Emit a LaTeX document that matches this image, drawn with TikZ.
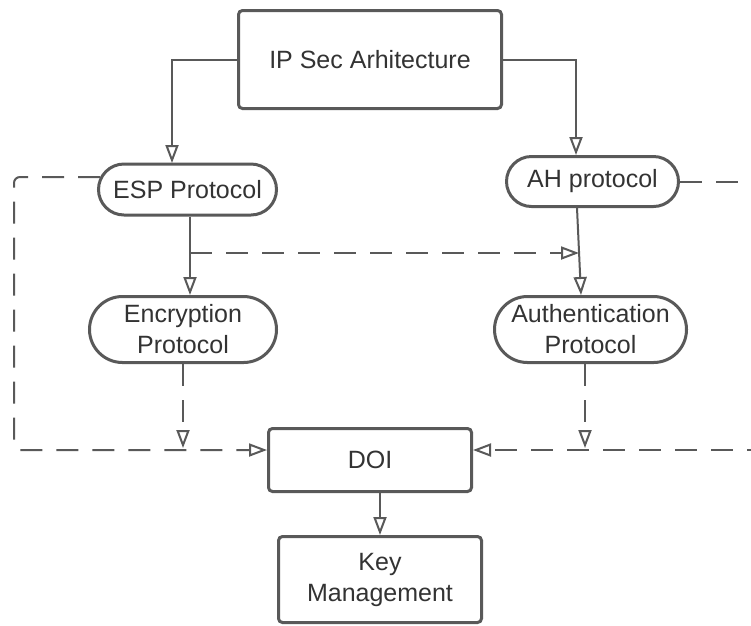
\documentclass[tikz,border=0pt]{standalone}
\usepackage{fontspec}
\setmainfont{Liberation Sans}
\usetikzlibrary{arrows.meta, shapes.misc}
\definecolor{linegray}{HTML}{595959}
\definecolor{textgray}{HTML}{333333}

\begin{document}
\begin{tikzpicture}[x=1pt, y=-1pt, >={Triangle[open, length=18pt, width=13pt]},
        color=linegray, text=textgray, font=\fontsize{25}{31}\selectfont,
        box/.style={draw=linegray, line width=3pt, rounded corners=4pt, fill=white, align=center, inner sep=0pt},
        pill/.style={draw=linegray, line width=3pt, rounded rectangle, fill=white, align=center, inner sep=0pt},
        flow/.style={->, draw=linegray, line width=2pt},
        dflow/.style={flow, dash pattern=on 22pt off 14pt}]
            \useasboundingbox[fill=white] (0, 0) rectangle (751, 625);
            \node[box, minimum width=263pt, minimum height=98pt] (arch) at (370, 59.5) {IP Sec Arhitecture};
            \node[pill, minimum width=178pt, minimum height=51pt] (esp) at (187.5, 189.5) {ESP Protocol};
            \node[pill, minimum width=172pt, minimum height=50pt] (ah) at (592.5, 181.5) {AH protocol};
            \node[pill, minimum width=187pt, minimum height=66pt] (enc) at (183, 329.5) {Encryption\\Protocol};
            \node[pill, minimum width=192pt, minimum height=66pt] (auth) at (590.5, 329.5) {Authentication\\Protocol};
            \node[box, minimum width=203pt, minimum height=63pt] (doi) at (370, 460) {DOI};
            \node[box, minimum width=203pt, minimum height=86pt] (key) at (380, 579.5) {Key\\Management};
            % joints and turns of the connectors
            \coordinate (espin) at (172, 163);
            \coordinate (ahin) at (576, 155);
            \coordinate (branch) at (190, 253);
            \coordinate (merge) at (579, 253);
            \coordinate (encjoin) at (183, 448);
            \coordinate (authjoin) at (585, 448);
            \coordinate (leftturn) at (14, 177);
            \coordinate (rightturn) at (770, 181.5);
            \draw[flow] (arch.west) -| (espin);
            \draw[flow] (arch.east) -| (ahin);
            \draw[flow] ([xshift=2.5pt]esp.south) -- ([xshift=7pt]enc.north);
            \draw[flow] ([xshift=-15.5pt]ah.south) -- ([xshift=-9.5pt]auth.north);
            \draw[dflow] (branch) -- (merge);
            \draw[dflow, rounded corners=6pt] ([shift={(3pt, 12.5pt)}]esp.west) -- (leftturn) |- ([yshift=10pt]doi.west);
            \draw[dflow] (ah.east) -- (rightturn) |- ([yshift=10pt]doi.east);
            \draw[dflow] (enc.south) -- (encjoin);
            \draw[dflow] ([xshift=-5.5pt]auth.south) -- (authjoin);
            \draw[flow] ([xshift=10pt]doi.south) -- (key.north);
        \end{tikzpicture}
\end{document}
